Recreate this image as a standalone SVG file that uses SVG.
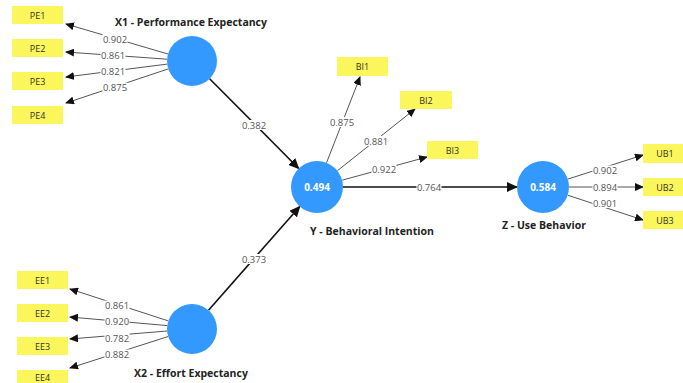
<svg xmlns="http://www.w3.org/2000/svg" width="683" height="383" viewBox="0 0 683 383">
<defs>
<style>
.box{fill:#FBF65C;}
.bt{font-family:"Open Sans","Liberation Sans",sans-serif;font-size:9px;fill:#333;text-anchor:middle;}
.lv{fill:#3399FF;}
.lvt{font-family:"Open Sans","Liberation Sans",sans-serif;font-size:10px;font-weight:bold;fill:#fff;text-anchor:middle;}
.ttl{font-family:"Open Sans","Liberation Sans",sans-serif;font-size:10.5px;font-weight:bold;fill:#222;text-anchor:middle;}
.ld{stroke:#555;stroke-width:1;fill:none;marker-end:url(#ah);}
.pth{stroke:#111;stroke-width:1.6;fill:none;marker-end:url(#ahb);}
.lbg{fill:#fff;}
.lbl{font-family:"Open Sans","Liberation Sans",sans-serif;font-size:9.5px;fill:#555;text-anchor:middle;}
</style>
<marker id="ah" markerWidth="9" markerHeight="8" refX="8" refY="4" orient="auto" markerUnits="userSpaceOnUse">
<path d="M0,0 L9,4 L0,8 Z" fill="#111"/>
</marker>
<marker id="ahb" markerWidth="11" markerHeight="10" refX="10" refY="5" orient="auto" markerUnits="userSpaceOnUse">
<path d="M0,0 L11,5 L0,10 Z" fill="#111"/>
</marker>
</defs>
<rect width="683" height="383" fill="#fff"/>

<g id="connectors">
<line class="ld" x1="168" y1="54" x2="66" y2="24"/>
<line class="ld" x1="167.1" y1="59.2" x2="66" y2="52"/>
<line class="ld" x1="167.2" y1="64.1" x2="66" y2="77"/>
<line class="ld" x1="168.3" y1="68.9" x2="66" y2="103"/>
<line class="ld" x1="168.3" y1="320.9" x2="70" y2="289"/>
<line class="ld" x1="167.3" y1="325.6" x2="70" y2="317"/>
<line class="ld" x1="167.1" y1="331.0" x2="70" y2="339"/>
<line class="ld" x1="168.2" y1="336.5" x2="70" y2="368"/>
<line class="ld" x1="326.5" y1="162.8" x2="360" y2="77"/>
<line class="ld" x1="337.3" y1="170.8" x2="415" y2="109"/>
<line class="ld" x1="342.1" y1="180.2" x2="427" y2="157"/>
<line class="ld" x1="567.8" y1="179.1" x2="643" y2="155"/>
<line class="ld" x1="569" y1="187" x2="643" y2="187"/>
<line class="ld" x1="567.7" y1="195.2" x2="643" y2="220"/>
<line class="pth" x1="209.6" y1="78.7" x2="298.7" y2="168.5"/>
<line class="pth" x1="208.5" y1="310.2" x2="299.8" y2="206.5"/>
<line class="pth" x1="343" y1="187" x2="517" y2="187"/>
<rect class="lbg" x="102.5" y="34" width="25" height="10"/><text class="lbl" x="115" y="42.5">0.902</text>
<rect class="lbg" x="100.5" y="50" width="25" height="10"/><text class="lbl" x="113" y="58.5">0.861</text>
<rect class="lbg" x="100.5" y="66.5" width="25" height="10"/><text class="lbl" x="113" y="75">0.821</text>
<rect class="lbg" x="102.5" y="82.5" width="25" height="10"/><text class="lbl" x="115" y="91">0.875</text>
<rect class="lbg" x="104.5" y="300.5" width="25" height="10"/><text class="lbl" x="117" y="309">0.861</text>
<rect class="lbg" x="104.5" y="316.5" width="25" height="10"/><text class="lbl" x="117" y="325">0.920</text>
<rect class="lbg" x="104.5" y="333" width="25" height="10"/><text class="lbl" x="117" y="341.5">0.782</text>
<rect class="lbg" x="104.5" y="349.5" width="25" height="10"/><text class="lbl" x="117" y="358">0.882</text>
<rect class="lbg" x="329.5" y="117" width="25" height="10"/><text class="lbl" x="342" y="125.5">0.875</text>
<rect class="lbg" x="363.5" y="136" width="25" height="10"/><text class="lbl" x="376" y="144.5">0.881</text>
<rect class="lbg" x="371.5" y="164" width="25" height="10"/><text class="lbl" x="384" y="172.5">0.922</text>
<rect class="lbg" x="592.5" y="165.5" width="25" height="10"/><text class="lbl" x="605" y="174">0.902</text>
<rect class="lbg" x="592.5" y="182" width="25" height="10"/><text class="lbl" x="605" y="190.5">0.894</text>
<rect class="lbg" x="592.5" y="198" width="25" height="10"/><text class="lbl" x="605" y="206.5">0.901</text>
<rect class="lbg" x="241.5" y="120" width="25" height="10"/><text class="lbl" x="254" y="128.5">0.382</text>
<rect class="lbg" x="241.5" y="254" width="25" height="10"/><text class="lbl" x="254" y="262.5">0.373</text>
<rect class="lbg" x="416.5" y="182" width="25" height="10"/><text class="lbl" x="429" y="190.5">0.764</text>
</g>

<g id="PE1"><rect class="box" x="12" y="6" width="51" height="18"/><text class="bt" x="37.5" y="18.5">PE1</text></g>
<g id="PE2"><rect class="box" x="12" y="39" width="51" height="18"/><text class="bt" x="37.5" y="51.5">PE2</text></g>
<g id="PE3"><rect class="box" x="12" y="72" width="51" height="18"/><text class="bt" x="37.5" y="84.5">PE3</text></g>
<g id="PE4"><rect class="box" x="12" y="106" width="51" height="18"/><text class="bt" x="37.5" y="118.5">PE4</text></g>

<g id="EE1"><rect class="box" x="17" y="271" width="51" height="18"/><text class="bt" x="42.5" y="283.5">EE1</text></g>
<g id="EE2"><rect class="box" x="17" y="304" width="51" height="18"/><text class="bt" x="42.5" y="316.5">EE2</text></g>
<g id="EE3"><rect class="box" x="17" y="337" width="51" height="18"/><text class="bt" x="42.5" y="349.5">EE3</text></g>
<g id="EE4"><rect class="box" x="17" y="370" width="51" height="18"/><text class="bt" x="42.5" y="380.5">EE4</text></g>

<g id="BI1"><rect class="box" x="337" y="57" width="51" height="19"/><text class="bt" x="362.5" y="70">BI1</text></g>
<g id="BI2"><rect class="box" x="400" y="91" width="52" height="18"/><text class="bt" x="426" y="103.5">BI2</text></g>
<g id="BI3"><rect class="box" x="427" y="141" width="51" height="18"/><text class="bt" x="452.5" y="153.5">BI3</text></g>

<g id="UB1"><rect class="box" x="643" y="144" width="51" height="19"/><text class="bt" x="665" y="157">UB1</text></g>
<g id="UB2"><rect class="box" x="643" y="178" width="51" height="18"/><text class="bt" x="665" y="190.5">UB2</text></g>
<g id="UB3"><rect class="box" x="643" y="211" width="51" height="18"/><text class="bt" x="665" y="223.5">UB3</text></g>

<g id="X1"><circle class="lv" cx="192" cy="61" r="25"/><text class="ttl" x="191" y="26">X1 - Performance Expectancy</text></g>
<g id="X2"><circle class="lv" cx="192" cy="329" r="25"/><text class="ttl" x="191" y="377">X2 - Effort Expectancy</text></g>
<g id="Y"><circle class="lv" cx="317" cy="187" r="26"/><text class="lvt" x="317" y="190.5">0.494</text><text class="ttl" x="372" y="235">Y - Behavioral Intention</text></g>
<g id="Z"><circle class="lv" cx="543" cy="187" r="26"/><text class="lvt" x="543" y="190.5">0.584</text><text class="ttl" x="544" y="229">Z - Use Behavior</text></g>
</svg>
